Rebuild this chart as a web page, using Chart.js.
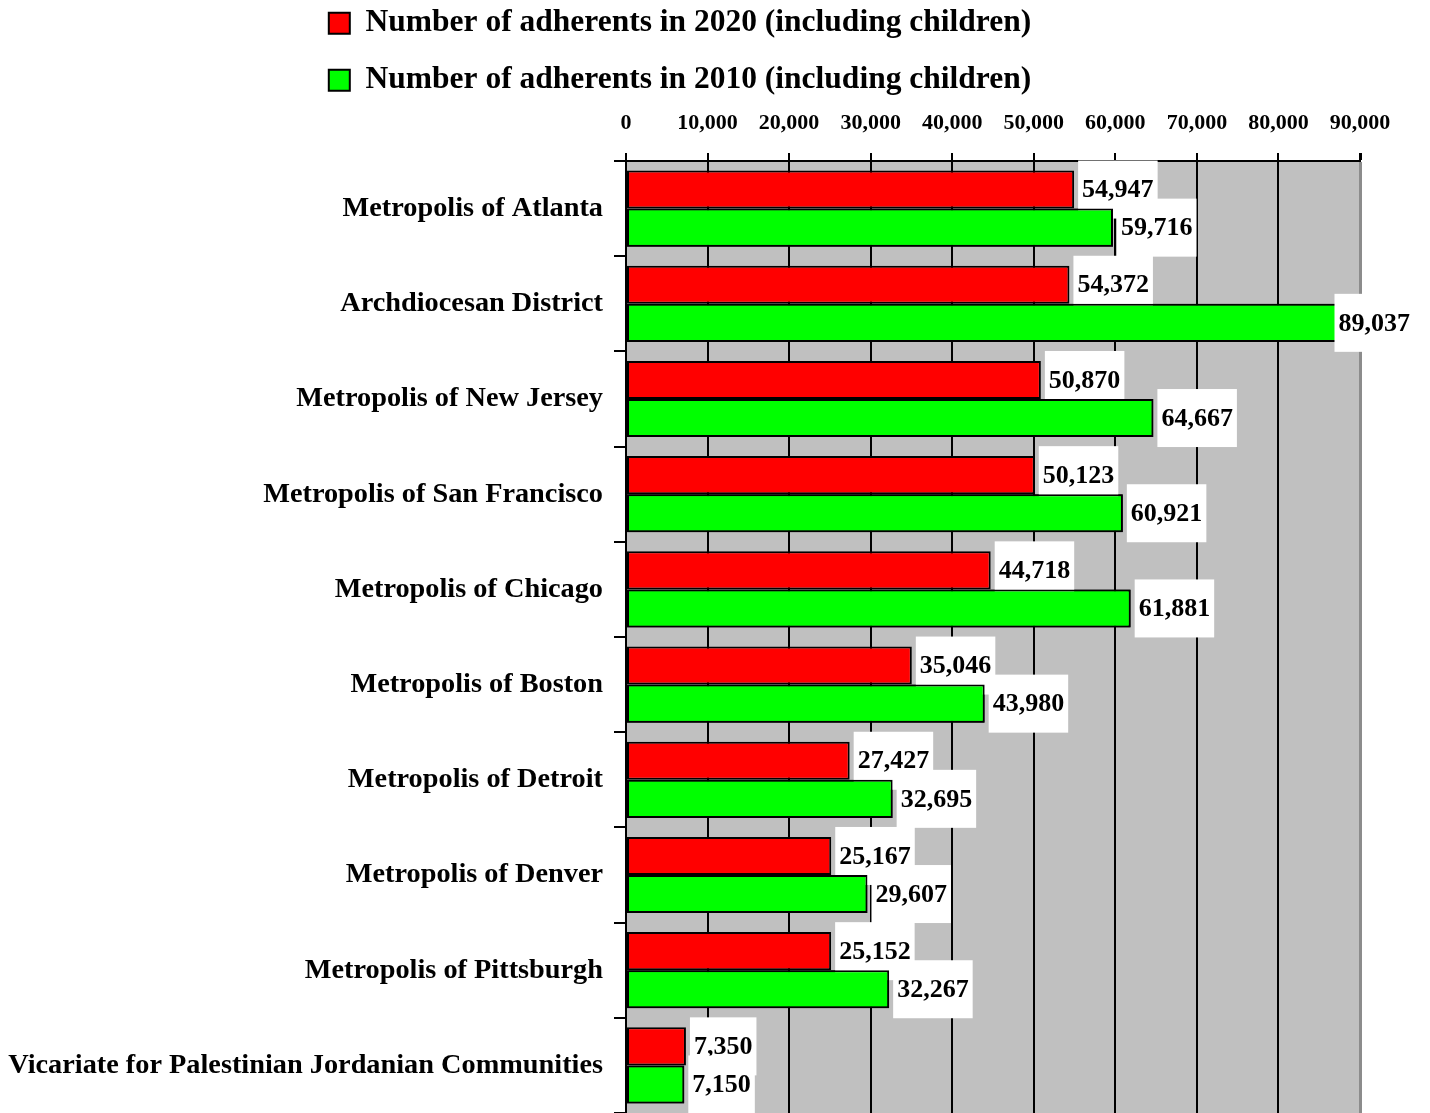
<!DOCTYPE html>
<html>
<head>
<meta charset="utf-8">
<script src="https://cdn.jsdelivr.net/npm/chart.js@4/dist/chart.umd.min.js"></script>
<style>
html,body{margin:0;padding:0;background:#fff;overflow:hidden;width:1430px;height:1113px;}
#wrap{position:absolute;left:0;top:-18px;width:1430px;height:1131px;}
</style>
</head>
<body>
<div id="wrap"><canvas id="c"></canvas></div>
<script>
const categories = [
  'Metropolis of Atlanta',
  'Archdiocesan District',
  'Metropolis of New Jersey',
  'Metropolis of San Francisco',
  'Metropolis of Chicago',
  'Metropolis of Boston',
  'Metropolis of Detroit',
  'Metropolis of Denver',
  'Metropolis of Pittsburgh',
  'Vicariate for Palestinian Jordanian Communities'
];
const adherents2020 = [54947, 54372, 50870, 50123, 44718, 35046, 27427, 25167, 25152, 7350];
const adherents2010 = [59716, 89037, 64667, 60921, 61881, 43980, 32695, 29607, 32267, 7150];
const seriesNames = [
  'Number of adherents in 2020 (including children)',
  'Number of adherents in 2010 (including children)'
];
const xTickValues = [0, 10000, 20000, 30000, 40000, 50000, 60000, 70000, 80000, 90000];

const FONT = '"Liberation Serif", "Times New Roman", serif';
const fmt = v => v.toLocaleString('en-US');

const plotBg = {
  id: 'plotBg',
  beforeDraw(chart) {
    const {ctx, chartArea: a} = chart;
    ctx.save();
    ctx.fillStyle = '#c0c0c0';
    ctx.fillRect(a.left, a.top, a.right - a.left, a.bottom - a.top);
    ctx.restore();
  }
};

const valueLabels = {
  id: 'valueLabels',
  afterDatasetsDraw(chart) {
    const ctx = chart.ctx;
    ctx.save();
    ctx.font = 'bold 26px ' + FONT;
    const drawLabels = (di) => {
      const meta = chart.getDatasetMeta(di);
      const data = chart.data.datasets[di].data;
      meta.data.forEach((bar, i) => {
        const txt = fmt(data[i]);
        const w = ctx.measureText(txt).width + 8;
        const h = 58;
        let x = bar.x + 4;
        const limit = chart.width - 16;
        if (x + w > limit) x = limit - w;
        ctx.fillStyle = '#ffffff';
        ctx.fillRect(x, bar.y - h / 2, w, h);
        ctx.fillStyle = '#000000';
        ctx.textAlign = 'left';
        ctx.textBaseline = 'middle';
        ctx.fillText(txt, x + 4, bar.y + 1);
      });
    };
    drawLabels(0);
    chart.getDatasetMeta(1).data.forEach(el => el.draw(ctx));
    drawLabels(1);
    ctx.restore();
  }
};

new Chart(document.getElementById('c'), {
  type: 'bar',
  data: {
    labels: categories,
    datasets: [
      {
        label: seriesNames[0],
        data: adherents2020,
        backgroundColor: '#ff0000',
        borderColor: '#000000',
        borderWidth: 2,
        borderSkipped: false
      },
      {
        label: seriesNames[1],
        data: adherents2010,
        backgroundColor: '#00ff00',
        borderColor: '#000000',
        borderWidth: 2,
        borderSkipped: false
      }
    ]
  },
  options: {
    indexAxis: 'y',
    responsive: true,
    maintainAspectRatio: false,
    devicePixelRatio: 1,
    animation: false,
    categoryPercentage: 0.8,
    barPercentage: 1.0,
    layout: { padding: { left: 0, right: 70, top: 0, bottom: 0 } },
    plugins: {
      tooltip: { enabled: false },
      legend: {
        position: 'top',
        align: 'center',
        labels: {
          color: '#000',
          font: { family: FONT, size: 31.5, weight: 'bold' },
          boxWidth: 21,
          boxHeight: 21,
          padding: 25.5
        }
      }
    },
    scales: {
      x: {
        type: 'linear',
        position: 'top',
        min: 0,
        max: 90000,
        afterBuildTicks(scale) {
          scale.ticks = xTickValues.map(v => ({ value: v }));
        },
        afterFit(scale) {
          const lh = scale.chart.legend ? scale.chart.legend.height : 0;
          scale.height = 179 - lh;
        },
        ticks: {
          color: '#000',
          font: { family: FONT, size: 22, weight: 'bold' },
          padding: 16,
          autoSkip: false,
          maxRotation: 0,
          callback: v => fmt(v)
        },
        grid: {
          color: c => (c.tick && c.tick.value === 90000) ? '#8c8c8c' : '#000000',
          lineWidth: c => (c.tick && c.tick.value === 90000) ? 3 : 2,
          tickColor: '#000000',
          tickLength: 8,
          drawTicks: true
        },
        border: { display: true, color: '#000000', width: 2 }
      },
      y: {
        afterFit(scale) {
          scale.width = 626;
          scale.paddingTop = 0;
          scale.paddingBottom = 0;
        },
        ticks: {
          color: '#000',
          font: { family: FONT, size: 28.3, weight: 'bold' },
          padding: 11,
          autoSkip: false
        },
        grid: {
          offset: true,
          drawOnChartArea: false,
          drawTicks: true,
          tickLength: 12,
          color: '#000000',
          lineWidth: 2
        },
        border: { display: true, color: '#000000', width: 2 }
      }
    }
  },
  plugins: [plotBg, valueLabels]
});
</script>
</body>
</html>
